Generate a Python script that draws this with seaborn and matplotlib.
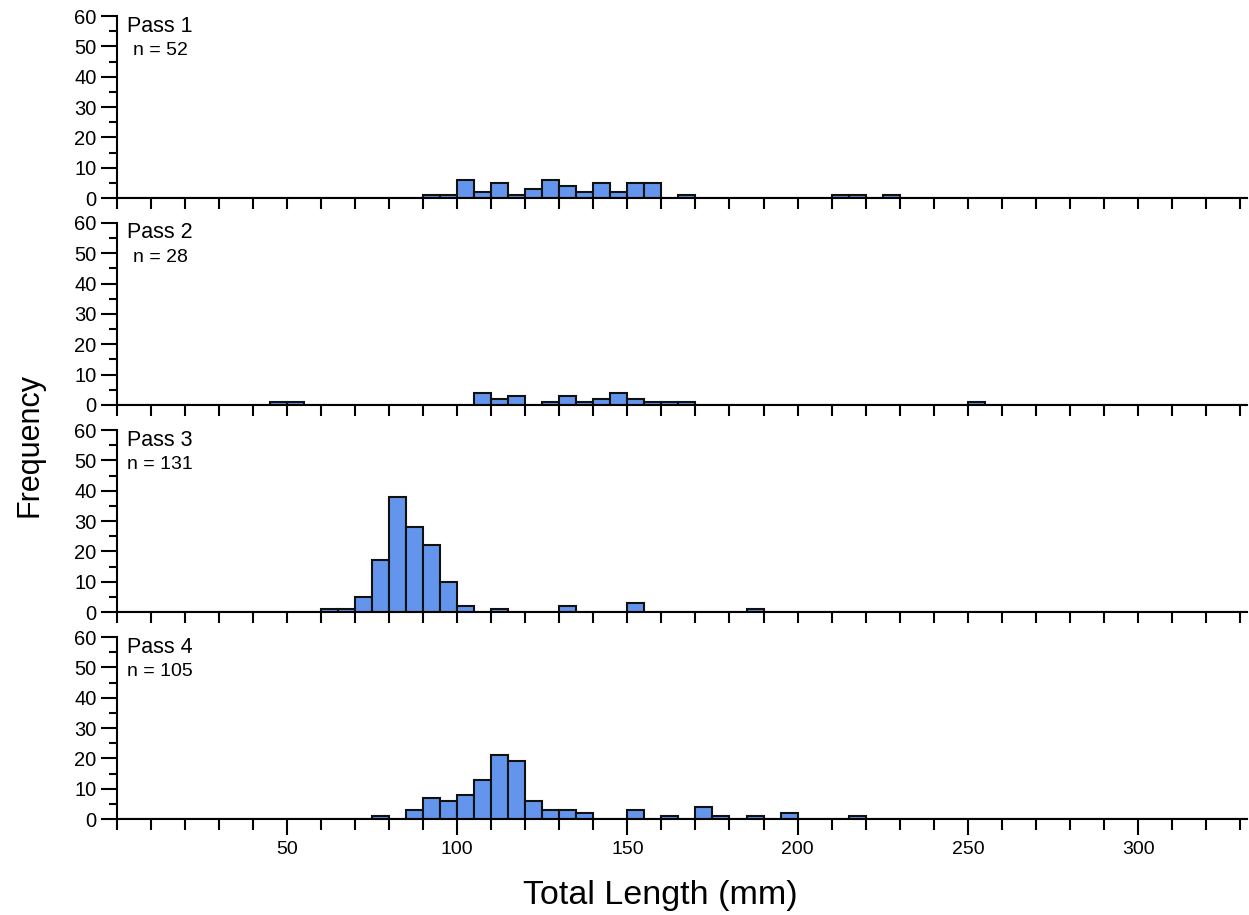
import numpy as np
import pandas as pd
import matplotlib
matplotlib.use("Agg")
import matplotlib.pyplot as plt
from matplotlib.ticker import MultipleLocator
import seaborn as sns

# ---- data: lower edge of each 5-mm bin (mm) and its count ----
pass_names = ["Pass 1", "Pass 2", "Pass 3", "Pass 4"]

pass1_len = [90, 95, 100, 105, 110, 115, 120, 125, 130, 135, 140, 145, 150, 155, 165, 210, 215, 225]
pass1_cnt = [1, 1, 6, 2, 5, 1, 3, 6, 4, 2, 5, 2, 5, 5, 1, 1, 1, 1]

pass2_len = [45, 50, 105, 110, 115, 125, 130, 135, 140, 145, 150, 155, 160, 165, 250]
pass2_cnt = [1, 1, 4, 2, 3, 1, 3, 1, 2, 4, 2, 1, 1, 1, 1]

pass3_len = [60, 65, 70, 75, 80, 85, 90, 95, 100, 110, 130, 150, 185]
pass3_cnt = [1, 1, 5, 17, 38, 28, 22, 10, 2, 1, 2, 3, 1]

pass4_len = [75, 85, 90, 95, 100, 105, 110, 115, 120, 125, 130, 135, 150, 160, 170, 175, 185, 195, 215]
pass4_cnt = [1, 3, 7, 6, 8, 13, 21, 19, 6, 3, 3, 2, 3, 1, 4, 1, 1, 2, 1]

x_tick_labels = [50, 100, 150, 200, 250, 300]
y_tick_values = [0, 10, 20, 30, 40, 50, 60]

bin_width = 5
lens = [pass1_len, pass2_len, pass3_len, pass4_len]
cnts = [pass1_cnt, pass2_cnt, pass3_cnt, pass4_cnt]

sns.set_style("ticks")
plt.rcParams['font.family'] = ['Liberation Sans', 'DejaVu Sans']
plt.rcParams['text.color'] = 'black'
plt.rcParams['xtick.color'] = 'black'
plt.rcParams['ytick.color'] = 'black'
plt.rcParams['xtick.labelcolor'] = 'black'
plt.rcParams['ytick.labelcolor'] = 'black'

fig = plt.figure(figsize=(12.49, 9.15), dpi=100)
left, width, height = 0.0934, 0.905, 0.1989
bottoms = [0.7836, 0.5574, 0.3311, 0.1049]

for i in range(4):
    ax = fig.add_axes([left, bottoms[i], width, height])
    df = pd.DataFrame({"length": np.array(lens[i]) + bin_width / 2, "count": cnts[i]})
    sns.histplot(data=df, x="length", weights="count", binwidth=bin_width, binrange=(0, 335), ax=ax,
                 color="#6495ED", edgecolor="#111111", linewidth=1.5, alpha=1)
    ax.set_xlim(0, 332)
    ax.set_ylim(0, 60)
    for s in ["top", "right"]:
        ax.spines[s].set_visible(False)
    for s in ["left", "bottom"]:
        ax.spines[s].set_linewidth(1.5)
        ax.spines[s].set_color("black")
    ax.set_yticks(y_tick_values)
    ax.yaxis.set_minor_locator(MultipleLocator(5))
    ax.tick_params(axis="y", which="major", length=11.5, width=1.5, labelsize=14.5, pad=3, color="black")
    ax.tick_params(axis="y", which="minor", length=6, width=1.5, color="black")
    if i < 3:
        ax.set_xticks(np.arange(0, 331, 10))
        ax.set_xticklabels([])
        ax.tick_params(axis="x", which="major", length=8, width=1.5, color="black")
    else:
        ax.set_xticks(x_tick_labels)
        ax.set_xticklabels([str(v) for v in x_tick_labels])
        ax.xaxis.set_minor_locator(MultipleLocator(10))
        ax.tick_params(axis="x", which="major", length=11.5, width=1.5, labelsize=14, pad=4, color="black")
        ax.tick_params(axis="x", which="minor", length=8, width=1.5, color="black")
    ax.set_xlabel("")
    ax.set_ylabel("")
    ax.text(0.0383, 0.945, pass_names[i], transform=ax.transAxes, ha="center", va="center",
            fontsize=15.5, color="black")
    ax.text(0.0383, 0.808, f"n = {sum(cnts[i])}", transform=ax.transAxes, ha="center", va="center",
            fontsize=14, color="black")

fig.text(0.024, 0.514, "Frequency", rotation=90, ha="center", va="center", fontsize=22, color="black")
fig.text(0.529, 0.012, "Total Length (mm)", ha="center", va="baseline", fontsize=24.5, color="black")

fig.savefig("out.png", dpi=100)
